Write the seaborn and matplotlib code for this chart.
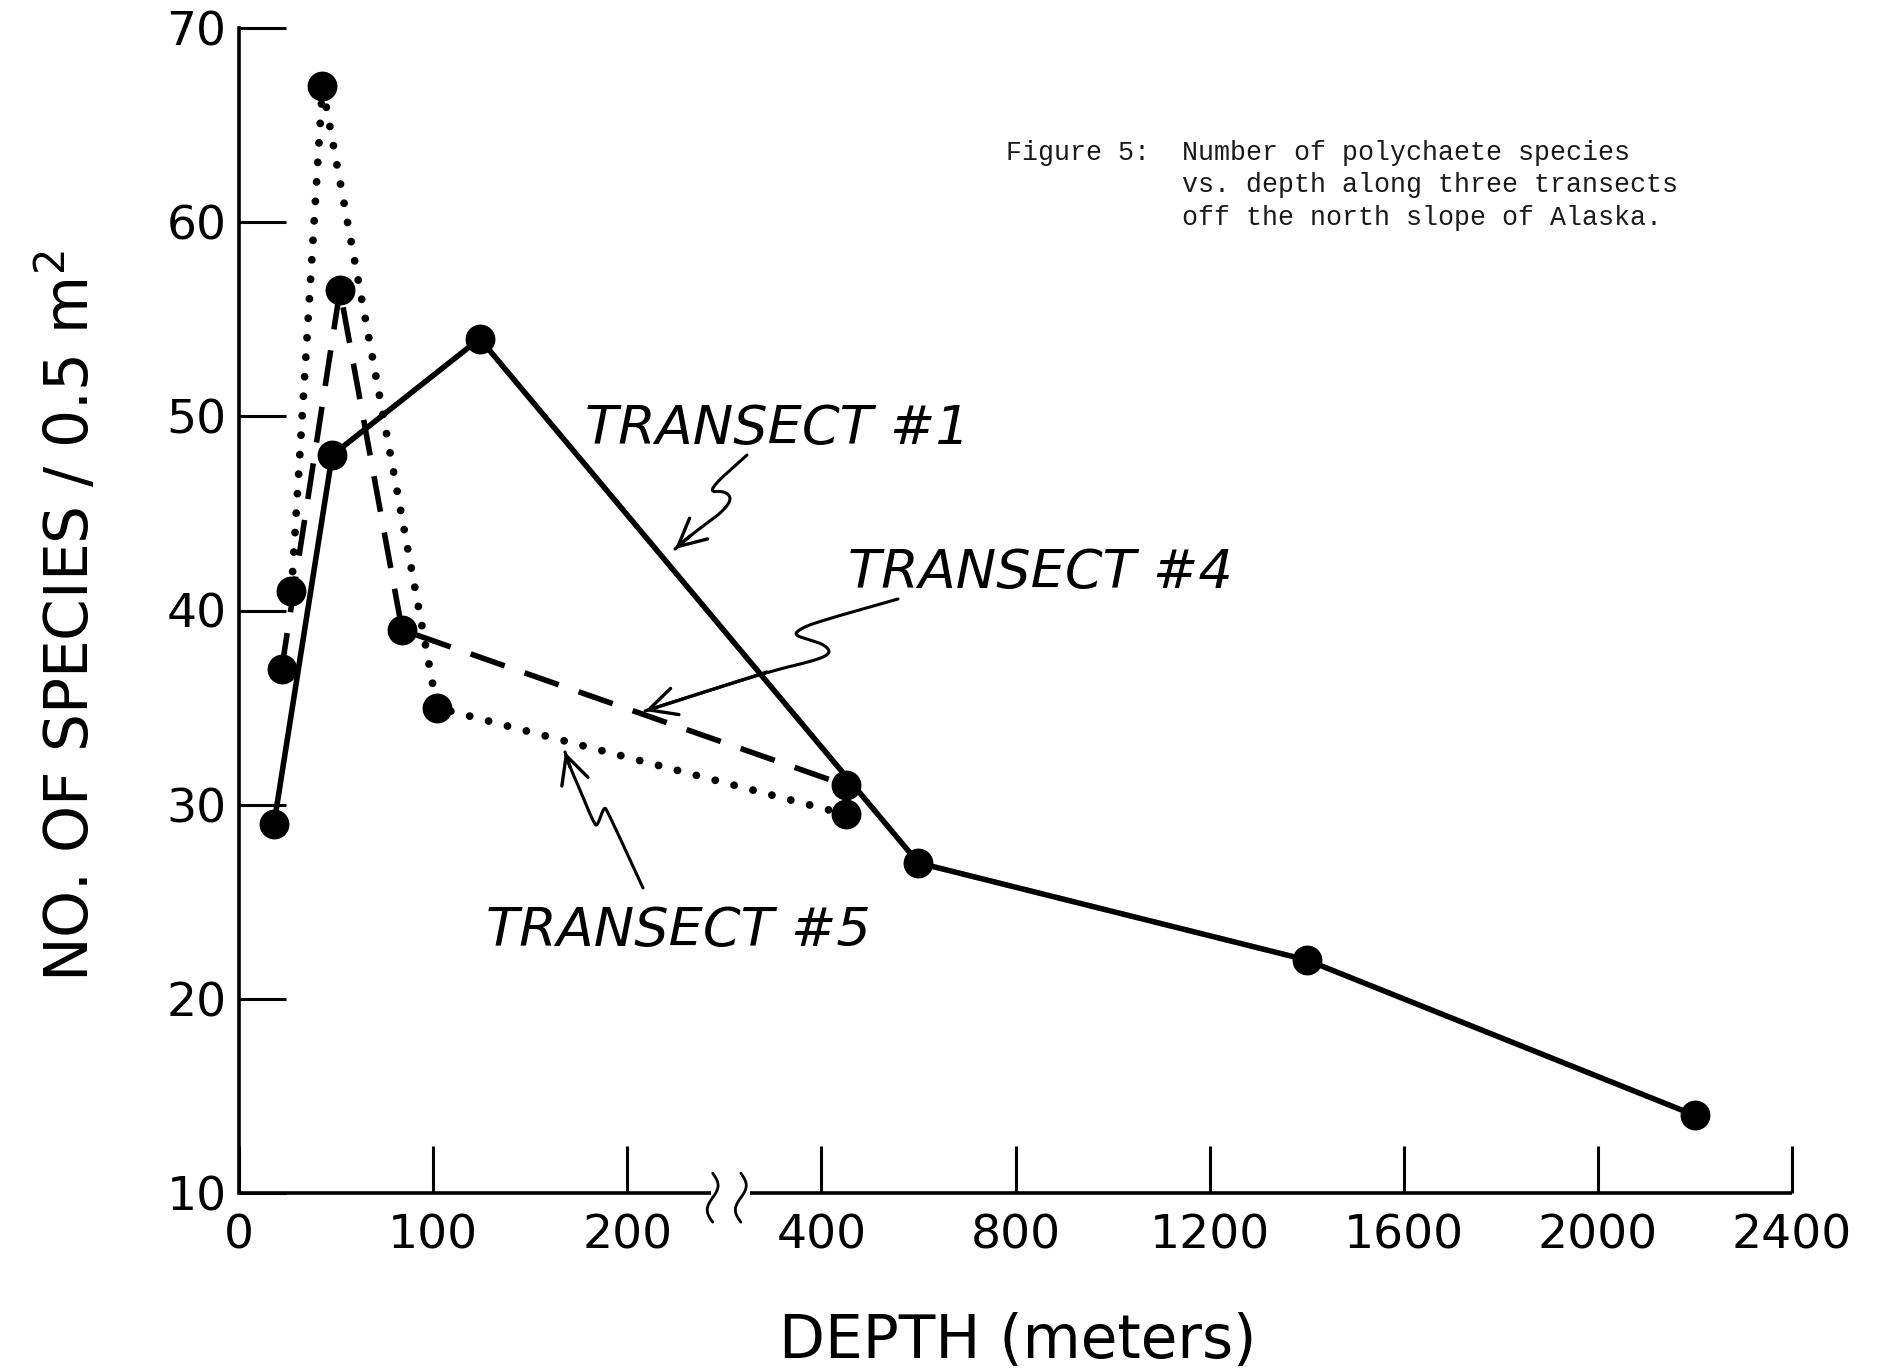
import numpy as np
import pandas as pd
import matplotlib
matplotlib.use("Agg")
import matplotlib.pyplot as plt
import seaborn as sns

# Station depth (m) and number of polychaete species per 0.5 m^2, per transect
depth_t1 = [18, 48, 124, 600, 1400, 2200]
species_t1 = [29, 48, 54, 27, 22, 14]
depth_t4 = [22, 52, 84, 450]
species_t4 = [37, 56.5, 39, 31]
depth_t5 = [27, 43, 102, 450]
species_t5 = [41, 67, 35, 29.5]

x_ticks = [0, 100, 200, 400, 800, 1200, 1600, 2000, 2400]
y_ticks = [10, 20, 30, 40, 50, 60, 70]
transect_names = ["TRANSECT #1", "TRANSECT #4", "TRANSECT #5"]
caption_lines = [
    "Figure 5:  Number of polychaete species",
    "           vs. depth along three transects",
    "           off the north slope of Alaska.",
]

df = pd.concat(
    [
        pd.DataFrame({"depth": depth_t1, "species": species_t1, "transect": transect_names[0]}),
        pd.DataFrame({"depth": depth_t4, "species": species_t4, "transect": transect_names[1]}),
        pd.DataFrame({"depth": depth_t5, "species": species_t5, "transect": transect_names[2]}),
    ],
    ignore_index=True,
)


# Broken depth axis: 0-200 m at 100 m per tick, 400-2400 m at 400 m per tick
def depth_forward(d):
    d = np.asarray(d, dtype=float)
    return np.where(d <= 200, d / 100.0,
                    np.where(d < 400, 2.0 + (d - 200.0) / 200.0, 3.0 + (d - 400.0) / 400.0))


def depth_inverse(p):
    p = np.asarray(p, dtype=float)
    return np.where(p <= 2, p * 100.0,
                    np.where(p < 3, 200.0 + (p - 2.0) * 200.0, 400.0 + (p - 3.0) * 400.0))


sns.set_theme(style="ticks")
plt.rcParams["font.family"] = ["DejaVu Sans"]
plt.rcParams["text.color"] = "black"
plt.rcParams["axes.labelcolor"] = "black"

W, H = 1883, 1371
fig = plt.figure(figsize=(W / 100, H / 100), dpi=100)
ax = fig.add_axes([239 / W, 1 - 1193 / H, 1553 / W, 1165 / H])

line_specs = {
    transect_names[0]: dict(ls="-", lw=4.0, cap="butt"),
    transect_names[1]: dict(ls=(0, (6.5, 3.8)), lw=4.0, cap="butt"),
    transect_names[2]: dict(ls=(0, (0.01, 2.5)), lw=5.6, cap="round"),
}

for name in transect_names:
    spec = line_specs[name]
    sns.lineplot(data=df[df["transect"] == name], x="depth", y="species",
                 color="black", marker="o", markersize=21.5, markeredgewidth=0,
                 sort=False, estimator=None, legend=False, ax=ax)
    ln = ax.lines[-1]
    ln.set_linewidth(spec["lw"])
    ln.set_linestyle(spec["ls"])
    ln.set_dash_capstyle(spec["cap"])
    ln.set_solid_capstyle("round")

ax.set_xscale("function", functions=(depth_forward, depth_inverse))
ax.set_xlim(0, 2400)
ax.set_ylim(10, 70)
ax.set_xticks(x_ticks)
ax.set_xticklabels([str(t) for t in x_ticks])
ax.set_yticks(y_ticks)
ax.set_yticklabels([str(t) for t in y_ticks])
ax.xaxis.set_minor_locator(matplotlib.ticker.NullLocator())

ax.tick_params(axis="both", direction="in", length=34, width=2.2, color="black",
               labelsize=34, labelcolor="black")
ax.tick_params(axis="x", pad=15)
ax.tick_params(axis="y", pad=9)

for side in ["top", "right", "bottom"]:
    ax.spines[side].set_visible(False)
ax.spines["left"].set_linewidth(2.6)
ax.spines["left"].set_color("black")

# Bottom axis line with a break between 200 and 400 m
xt = ax.get_xaxis_transform()
ax.plot([0, 286], [0, 0], transform=xt, color="black", lw=2.6, clip_on=False,
        solid_capstyle="butt")
ax.plot([326, 2400], [0, 0], transform=xt, color="black", lw=2.6, clip_on=False,
        solid_capstyle="butt")
t = np.linspace(-1, 1, 60)
for xc in (2.44 / 8, 2.585 / 8):
    ax.plot(xc + 0.0035 * np.sin(np.pi * t), -0.004 + 0.021 * t,
            transform=ax.transAxes, color="black", lw=2.0, clip_on=False)

ax.set_xlabel("DEPTH (meters)", fontsize=43, color="black")
ax.xaxis.set_label_coords(0.5016, -0.102)
ax.set_ylabel("NO. OF SPECIES / 0.5 m$^{2}$", fontsize=43, color="black")
ax.yaxis.set_label_coords(-0.088, 0.495)


def fig_px(x, y):
    return (x / W, 1 - y / H)


# Series labels
label_pos = [(585, 444), (848, 588), (486, 946)]
for name, (px, py) in zip(transect_names, label_pos):
    fig.text(*fig_px(px, py), name, fontsize=39, fontstyle="italic",
             ha="left", va="baseline", color="black")


# Squiggle pointers from the labels to their lines
def chaikin(pts, n=3):
    pts = np.asarray(pts, dtype=float)
    for _ in range(n):
        q = 0.75 * pts[:-1] + 0.25 * pts[1:]
        r = 0.25 * pts[:-1] + 0.75 * pts[1:]
        mid = np.empty((2 * len(q), 2))
        mid[0::2] = q
        mid[1::2] = r
        pts = np.vstack([pts[:1], mid, pts[-1:]])
    return pts


pointers = [
    [(747, 455), (706, 492), (725, 491), (732, 499), (722, 512), (707, 523), (690, 536), (675, 549)],
    [(898, 599), (817, 622), (800, 629), (794, 635), (810, 640), (825, 645), (831, 653), (817, 660),
     (767, 672), (645, 711)],
    [(643, 888), (607, 810), (604, 807), (598, 824), (595, 826), (580, 790), (570, 767), (565, 752)],
]
for pts in pointers:
    smooth = chaikin(pts)
    fx = smooth[:, 0] / W
    fy = 1 - smooth[:, 1] / H
    fig.add_artist(matplotlib.lines.Line2D(fx, fy, color="black", lw=2.2,
                                           transform=fig.transFigure))
    tip = fig_px(*pts[-1])
    back = fig_px(*pts[-2])
    ax.annotate("", xy=tip, xytext=back, xycoords="figure fraction",
                textcoords="figure fraction",
                arrowprops=dict(arrowstyle="->,head_length=0.9,head_width=0.45",
                                color="black", lw=2.4, shrinkA=0, shrinkB=0,
                                mutation_scale=22))

# Caption block
for i, line in enumerate(caption_lines):
    fig.text(*fig_px(1006, 160 + 32.3 * i), line, fontsize=19.2,
             family=["Liberation Mono", "DejaVu Sans Mono"], ha="left",
             va="baseline", color="#1a1a1a")

fig.savefig("out.png", dpi=100, facecolor="white")
